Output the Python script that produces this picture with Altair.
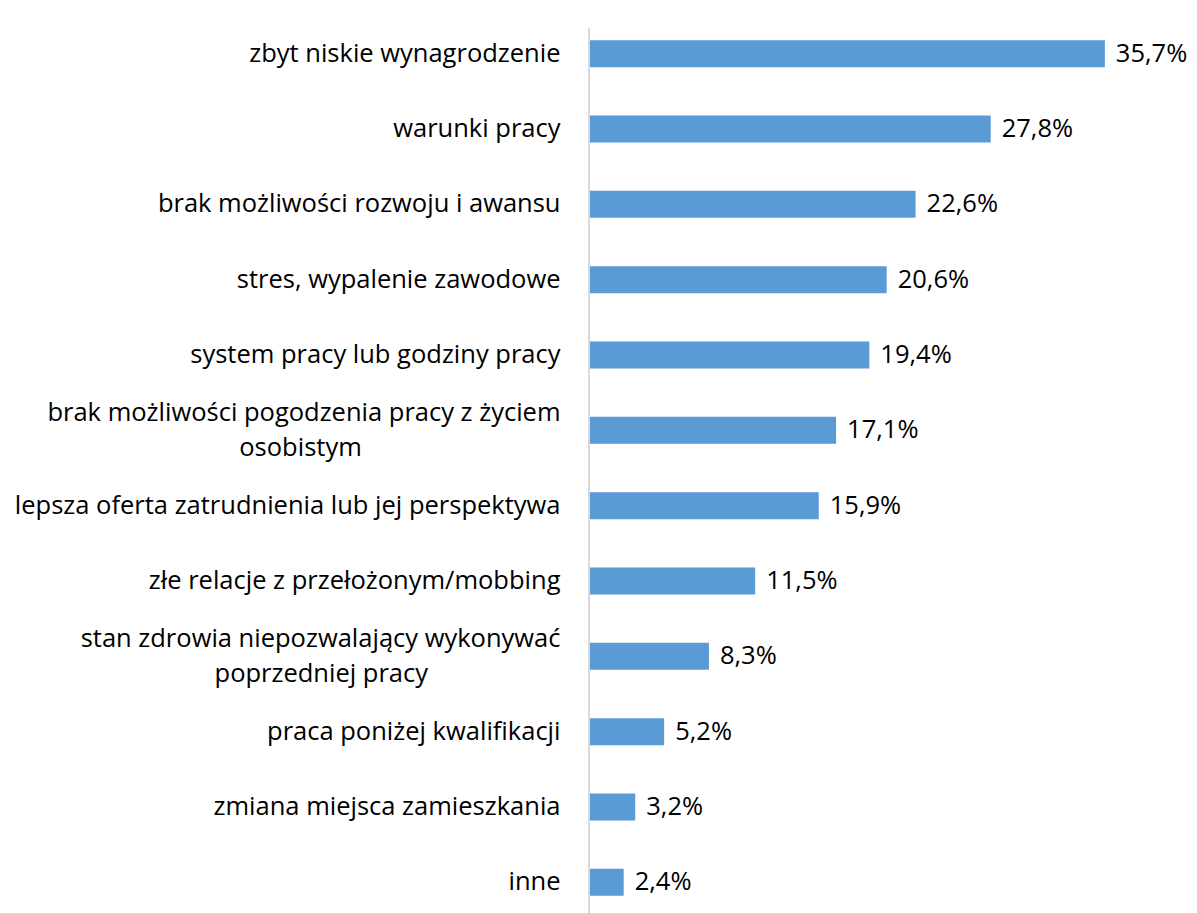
import altair as alt
import pandas as pd

categories = [
    "zbyt niskie wynagrodzenie",
    "warunki pracy",
    "brak możliwości rozwoju i awansu",
    "stres, wypalenie zawodowe",
    "system pracy lub godziny pracy",
    "brak możliwości pogodzenia pracy z życiem\nosobistym",
    "lepsza oferta zatrudnienia lub jej perspektywa",
    "złe relacje z przełożonym/mobbing",
    "stan zdrowia niepozwalający wykonywać\npoprzedniej pracy",
    "praca poniżej kwalifikacji",
    "zmiana miejsca zamieszkania",
    "inne",
]
values = [35.7, 27.8, 22.6, 20.6, 19.4, 17.1, 15.9, 11.5, 8.3, 5.2, 3.2, 2.4]

df = pd.DataFrame({"cat": categories, "val": values})
df["lbl"] = [f"{v:.1f}".replace(".", ",") + "%" for v in values]

FONT = "Open Sans"
FS = 25.5
LH = 35
NBSP = "\u00a0"
ZWSP = "\u200b"

# trailing non-breaking spaces so that the second line is centred under the first
second_line_pad = {categories[5]: 30, categories[8]: 20}


def esc(s):
    return s.replace("\\", "\\\\").replace("'", "\\'").replace("\n", "\\n")


expr = "split(datum.label, '\\n')"
for cat, n in second_line_pad.items():
    expr = (
        f"datum.label === '{esc(cat)}' ? split(datum.label + '{NBSP * n}{ZWSP}', '\\n') : "
        + expr
    )

y_enc = alt.Y(
    "cat:N",
    sort=categories,
    title=None,
    scale=alt.Scale(paddingInner=0.642, paddingOuter=0.321),
    axis=alt.Axis(
        ticks=False,
        domain=False,
        labelFont=FONT,
        labelFontSize=FS,
        labelColor="#000000",
        labelPadding=29,
        labelLimit=0,
        labelLineHeight=LH,
        labelExpr=expr,
        labelOffset={"condition": {"test": "indexof(datum.label, '\\n') >= 0", "value": -LH / 2}, "value": 0},
        minExtent=581,
        maxExtent=581,
    ),
)
x_enc = alt.X(
    "val:Q",
    title=None,
    scale=alt.Scale(domain=[0, 40], nice=False),
    axis=None,
)

bars = alt.Chart(df).mark_bar(color="#5B9BD5").encode(y=y_enc, x=x_enc)
text = alt.Chart(df).mark_text(
    align="left", baseline="middle", dx=11, font=FONT, fontSize=FS, color="#000000"
).encode(y=alt.Y("cat:N", sort=categories), x="val:Q", text="lbl:N")
axis_line = alt.Chart(df).mark_rule(color="#D9D9D9", strokeWidth=2).encode(
    x=alt.value(0), y=alt.value(12), y2=alt.value(920)
)

chart = (
    alt.layer(bars, text, axis_line)
    .properties(width=578, height=904, padding={"left": 0, "top": 8, "right": 0, "bottom": 0})
    .configure_view(stroke=None)
)

chart.save("out.html", embed_options={"renderer": "svg", "actions": False})
